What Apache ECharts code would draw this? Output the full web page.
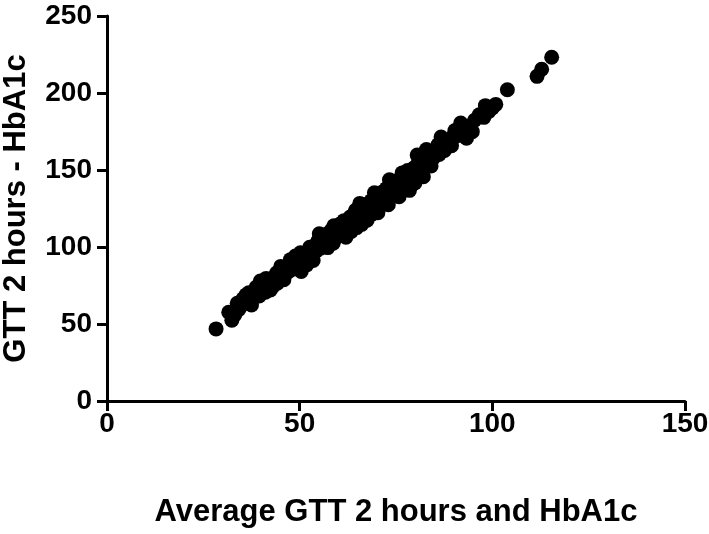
<!DOCTYPE html>
<html>
<head>
<meta charset="utf-8">
<script src="https://cdn.jsdelivr.net/npm/echarts@6/dist/echarts.min.js"></script>
<style>
  html, body { margin: 0; padding: 0; background: #fff; }
  #chart { width: 709px; height: 534px; }
</style>
</head>
<body>
<div id="chart"></div>
<script>
// axis settings
const xTicks = [0, 50, 100, 150];
const yTicks = [0, 50, 100, 150, 200, 250];
const xTitle = 'Average GTT 2 hours and HbA1c';
const yTitle = 'GTT 2 hours - HbA1c';

// mean of the two measures (x) and their difference (y)
const meanVals = [
    28.3, 32.4, 31.6, 33.2, 33.8, 34.6, 35.3, 36.1, 37.5, 37.9, 38.4, 39.2, 39.8, 40.3, 41.1, 41.7,
    42.4, 42.9, 43.6, 44.2, 44.8, 45.3, 45.9, 46.5, 47.1, 47.6, 48.2, 48.7, 49.3, 49.9, 50.4, 50.9,
    51.5, 52.1, 52.6, 53.2, 53.7, 54.3, 54.8, 55.4, 55.9, 56.5, 57.1, 57.6, 58.2, 58.7, 59.3, 59.8,
    60.4, 60.9, 61.5, 62.0, 62.6, 63.1, 63.7, 64.2, 64.8, 65.3, 65.9, 66.4, 67.0, 67.5, 68.1, 68.6,
    69.2, 69.7, 70.3, 70.8, 71.4, 71.9, 72.5, 73.0, 73.6, 74.1, 74.7, 75.2, 75.8, 76.3, 76.9, 77.4,
    78.0, 78.5, 79.1, 79.6, 80.2, 80.8, 81.3, 82.1, 82.6, 83.2, 83.8, 84.5, 85.3, 86.2, 87.0, 88.1,
    89.4, 90.3, 91.2, 92.5, 93.3, 94.1, 95.4, 96.6, 97.8, 99.1, 100.0, 100.9, 103.9, 111.6, 112.8, 115.4,
    36.8, 39.5, 43.1, 46.2, 48.9, 51.8, 54.5, 57.3, 60.1, 62.9, 66.1, 68.9, 71.6, 74.4, 77.1, 79.9,
    81.7, 84.1, 56.0, 58.9, 61.7, 64.5, 67.2, 70.0, 72.8, 75.5, 78.3, 85.9, 87.6, 89.8, 44.0, 41.3,
    38.7, 35.7, 34.2, 53.5, 50.2, 47.8, 45.1, 55.1, 59.0, 63.4, 65.6, 69.4, 73.3, 76.6, 80.5, 82.9,
    86.7, 91.8, 94.8, 98.2
];
const diffVals = [
    46.8, 52.5, 57.6, 56.1, 63.5, 61.2, 66.4, 68.9, 62.4, 66.8, 69.7, 71.5, 77.9, 74.2, 70.6, 76.3,
    72.1, 79.4, 80.8, 76.5, 84.3, 81.2, 78.7, 86.4, 83.9, 91.8, 85.6, 89.3, 87.2, 93.4, 84.1, 90.6,
    95.7, 92.3, 99.8, 94.1, 100.6, 97.5, 104.2, 99.3, 106.1, 101.8, 108.4, 104.3, 110.9, 102.5, 112.3, 107.6,
    114.8, 110.2, 117.1, 106.3, 113.4, 119.5, 115.9, 121.7, 112.6, 118.8, 125.4, 121.3, 127.6, 117.4, 124.2, 130.1,
    126.8, 132.5, 122.3, 129.1, 135.6, 131.2, 137.9, 127.4, 134.8, 140.3, 136.7, 143.1, 132.6, 139.9, 145.4, 141.2,
    149.6, 136.8, 144.7, 151.3, 147.5, 155.2, 152.1, 145.6, 158.4, 154.3, 161.6, 157.2, 163.4, 160.1, 167.5, 169.2,
    165.8, 175.6, 172.4, 177.1, 170.6, 178.8, 182.3, 185.9, 184.2, 188.1, 190.3, 192.6, 202.1, 210.8, 215.4, 223.2,
    70.3, 68.2, 74.6, 82.3, 94.1, 88.4, 102.1, 99.6, 109.4, 116.2, 114.7, 121.5, 127.9, 133.1, 137.8, 141.6,
    150.4, 152.6, 104.5, 113.8, 112.5, 123.9, 120.1, 134.3, 130.7, 141.8, 144.2, 166.3, 162.7, 171.9, 83.1, 79.6,
    73.9, 63.8, 59.4, 91.2, 96.3, 88.5, 87.4, 108.6, 104.9, 110.1, 128.3, 135.2, 143.6, 148.1, 159.7, 163.3,
    171.4, 180.5, 174.9, 191.8
];

const points = meanVals.map((m, i) => [m, diffVals[i]]);

const font = 'Arial, "Liberation Sans", sans-serif';
const axisLine = { lineStyle: { color: '#000', width: 3 } };
const axisTick = { length: 10, lineStyle: { color: '#000', width: 3 } };

const myChart = echarts.init(document.getElementById('chart'));
const option = {
    animation: false,
    backgroundColor: '#fff',
    grid: { left: 107, right: 24, top: 16, bottom: 133, outerBoundsMode: 'none', containLabel: false },
    xAxis: {
        type: 'value',
        min: xTicks[0],
        max: xTicks[xTicks.length - 1],
        interval: 50,
        name: xTitle,
        nameLocation: 'middle',
        nameGap: 96,
        nameTextStyle: { color: '#000', fontSize: 31, fontWeight: 'bold', fontFamily: font },
        axisLine: axisLine,
        axisTick: axisTick,
        splitLine: { show: false },
        axisLabel: { color: '#000', fontSize: 28, fontWeight: 'bold', fontFamily: font, margin: 9 }
    },
    yAxis: {
        type: 'value',
        min: yTicks[0],
        max: yTicks[yTicks.length - 1],
        interval: 50,
        name: yTitle,
        nameLocation: 'middle',
        nameGap: 75,
        nameTextStyle: { color: '#000', fontSize: 31, fontWeight: 'bold', fontFamily: font },
        axisLine: axisLine,
        axisTick: axisTick,
        splitLine: { show: false },
        axisLabel: { color: '#000', fontSize: 28, fontWeight: 'bold', fontFamily: font, margin: 15 }
    },
    series: [{
        type: 'scatter',
        data: points,
        symbolSize: 15,
        itemStyle: { color: '#000', opacity: 1 }
    }]
};
myChart.setOption(option);
</script>
</body>
</html>
